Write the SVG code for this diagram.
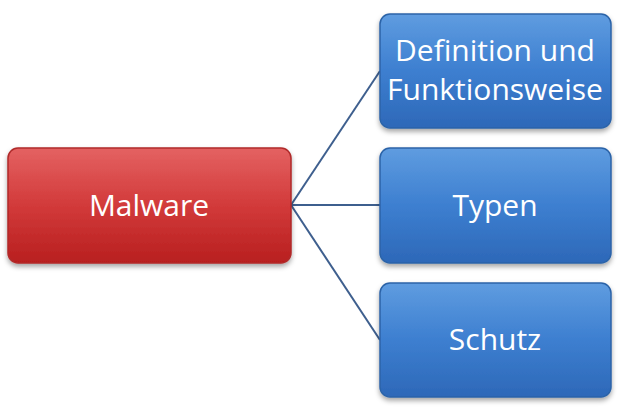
<svg xmlns="http://www.w3.org/2000/svg" width="630" height="411" viewBox="0 0 630 411">
<defs>
<linearGradient id="red" x1="0" y1="0" x2="0" y2="1"><stop offset="0" stop-color="#e46262"/><stop offset="0.5" stop-color="#d23a3a"/><stop offset="1" stop-color="#b81f1f"/></linearGradient>
<linearGradient id="blue" x1="0" y1="0" x2="0" y2="1"><stop offset="0" stop-color="#5f9ce0"/><stop offset="0.5" stop-color="#3d7fd0"/><stop offset="1" stop-color="#2d68b8"/></linearGradient>
<filter id="sh" x="-10%" y="-10%" width="120%" height="130%"><feDropShadow dx="0" dy="3" stdDeviation="2.5" flood-opacity="0.35"/></filter>
</defs>
<style>
.t{font-family:"Open Sans","Liberation Sans",sans-serif;font-size:30px;fill:#fff;text-anchor:middle}
.c{stroke:#3e5f8e;stroke-width:2;fill:none}
.r{stroke:#b02a2a;stroke-width:1.5}
.b{stroke:#2c63a8;stroke-width:1.5}
</style>
<rect width="630" height="411" fill="#fff"/>
<g id="connectors">
<line class="c" x1="291" y1="205" x2="380" y2="71"/>
<line class="c" x1="291" y1="205" x2="380" y2="205"/>
<line class="c" x1="291" y1="205" x2="380" y2="340"/>
</g>
<g id="malware"><rect class="r" x="8" y="148" width="283" height="115" rx="10" fill="url(#red)" filter="url(#sh)"/><text class="t" x="149" y="216">Malware</text></g>
<g id="def"><rect class="b" x="380" y="14" width="231" height="114" rx="10" fill="url(#blue)" filter="url(#sh)"/><text class="t" x="495" y="61">Definition und</text><text class="t" x="495" y="100">Funktionsweise</text></g>
<g id="typen"><rect class="b" x="380" y="148" width="231" height="115" rx="10" fill="url(#blue)" filter="url(#sh)"/><text class="t" x="495" y="216">Typen</text></g>
<g id="schutz"><rect class="b" x="380" y="283" width="231" height="114" rx="10" fill="url(#blue)" filter="url(#sh)"/><text class="t" x="495" y="350">Schutz</text></g>
</svg>
